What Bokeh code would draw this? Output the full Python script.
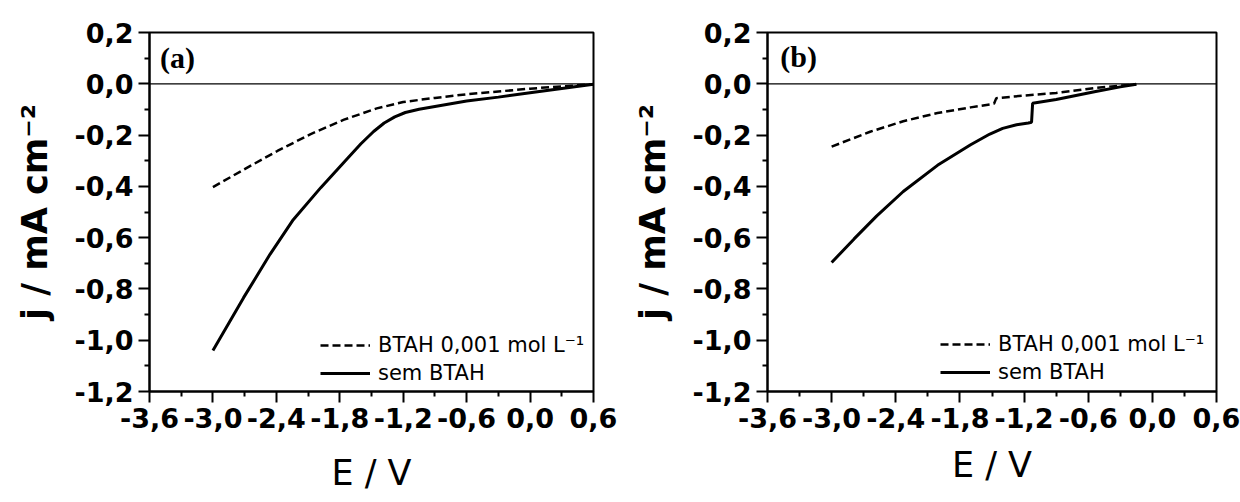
from bokeh.plotting import figure
from bokeh.layouts import row
from bokeh.models import Span, Label, FixedTicker, CustomJSTickFormatter, Range1d
from bokeh.embed import file_html
from bokeh.resources import INLINE

# ---------------- data ----------------
# Panel (a)
a_btah_E = [-3.00, -2.71, -2.39, -2.08, -1.76, -1.45, -1.20, -0.90, -0.60, -0.30, 0.00, 0.30, 0.60]
a_btah_j = [-0.403, -0.335, -0.262, -0.197, -0.140, -0.096, -0.071, -0.055, -0.041, -0.030, -0.019, -0.010, -0.002]
a_sem_E = [-3.00, -2.71, -2.46, -2.24, -1.98, -1.73, -1.60, -1.48, -1.38, -1.28, -1.18, -1.05, -0.60, -0.30, 0.00, 0.30, 0.60]
a_sem_j = [-1.040, -0.834, -0.665, -0.530, -0.405, -0.292, -0.234, -0.186, -0.153, -0.129, -0.112, -0.099, -0.067, -0.052, -0.035, -0.018, -0.002]

# Panel (b)
b_btah_E = [-3.00, -2.64, -2.33, -2.01, -1.70, -1.52, -1.48, -1.46, -1.20, -0.90, -0.53, -0.30, -0.15]
b_btah_j = [-0.245, -0.187, -0.146, -0.114, -0.092, -0.081, -0.077, -0.056, -0.046, -0.036, -0.016, -0.007, -0.002]
b_sem_E = [-3.00, -2.79, -2.58, -2.33, -2.01, -1.70, -1.52, -1.40, -1.27, -1.16, -1.13, -1.12, -0.90, -0.53, -0.30, -0.15]
b_sem_j = [-0.697, -0.605, -0.516, -0.420, -0.318, -0.238, -0.196, -0.174, -0.160, -0.153, -0.150, -0.076, -0.061, -0.030, -0.012, -0.002]

x_ticks = [-3.6, -3.0, -2.4, -1.8, -1.2, -0.6, 0.0, 0.6]
x_tick_labels = ["-3,6", "-3,0", "-2,4", "-1,8", "-1,2", "-0,6", "0,0", "0,6"]
y_ticks = [0.2, 0.0, -0.2, -0.4, -0.6, -0.8, -1.0, -1.2]
y_tick_labels = ["0,2", "0,0", "-0,2", "-0,4", "-0,6", "-0,8", "-1,0", "-1,2"]

series_labels = ["BTAH 0,001 mol L\u207b\u00b9", "sem BTAH"]
panel_tags = ["(a)", "(b)"]
x_title = "E / V"
y_title = "j / mA cm\u207b\u00b2"

FMT = """
let best = 0, d = Infinity;
for (let i = 0; i < tv.length; i++) {
  const e = Math.abs(tv[i] - tick);
  if (e < d) { d = e; best = i; }
}
return tl[best];
"""


def midpoints(t):
    s = sorted(t)
    return [(s[i] + s[i + 1]) / 2 for i in range(len(s) - 1)]


def make_panel(tag, bE, bj, sE, sj, borders, legend_loc, tag_xy, xlab_standoff):
    left, right, top, bottom = borders
    p = figure(width=620, height=502,
               x_range=Range1d(-3.6, 0.6), y_range=Range1d(-1.2, 0.2),
               output_backend="svg", toolbar_location=None,
               min_border_left=left, min_border_right=right,
               min_border_top=top, min_border_bottom=bottom)
    p.grid.visible = False
    p.background_fill_color = "white"
    p.border_fill_color = "white"
    p.outline_line_color = "black"
    p.outline_line_width = 2

    p.xaxis.ticker = FixedTicker(ticks=x_ticks, minor_ticks=midpoints(x_ticks))
    p.yaxis.ticker = FixedTicker(ticks=y_ticks, minor_ticks=midpoints(y_ticks))
    p.xaxis.formatter = CustomJSTickFormatter(args=dict(tv=x_ticks, tl=x_tick_labels), code=FMT)
    p.yaxis.formatter = CustomJSTickFormatter(args=dict(tv=y_ticks, tl=y_tick_labels), code=FMT)

    for ax in (p.xaxis[0], p.yaxis[0]):
        ax.axis_line_width = 2
        ax.axis_line_color = "black"
        ax.major_tick_line_width = 2
        ax.minor_tick_line_width = 2
        ax.major_tick_line_color = "black"
        ax.minor_tick_line_color = "black"
        ax.major_tick_out = 11
        ax.major_tick_in = 0
        ax.minor_tick_out = 5
        ax.minor_tick_in = 0
        ax.major_label_text_font = "DejaVu Sans"
        ax.major_label_text_font_style = "bold"
        ax.major_label_text_font_size = "27px"
        ax.major_label_text_color = "black"
        ax.major_label_standoff = 5
        ax.axis_label_text_color = "black"
        ax.axis_label_text_font = "DejaVu Sans"
        ax.axis_label_text_font_size = "35px"

    p.yaxis.axis_label = y_title
    p.yaxis.axis_label_text_font_style = "bold"
    p.yaxis.axis_label_standoff = 16
    p.xaxis.axis_label = x_title
    p.xaxis.axis_label_text_font_style = "normal"
    p.xaxis.axis_label_standoff = xlab_standoff

    p.add_layout(Span(location=0, dimension="width", line_color="black", line_width=1.2))

    p.line(bE, bj, line_color="black", line_width=2.5, line_dash="8 4",
           legend_label=series_labels[0])
    p.line(sE, sj, line_color="black", line_width=3, legend_label=series_labels[1])

    leg = p.legend[0]
    leg.location = legend_loc
    leg.background_fill_alpha = 0
    leg.border_line_alpha = 0
    leg.padding = 0
    leg.margin = 0
    leg.spacing = 4
    leg.glyph_width = 50
    leg.glyph_height = 24
    leg.label_height = 24
    leg.label_standoff = 8
    leg.label_text_font = "DejaVu Sans"
    leg.label_text_font_size = "21px"
    leg.label_text_color = "black"

    p.add_layout(Label(x=tag_xy[0], y=tag_xy[1], text=tag, text_font="Liberation Serif",
                       text_font_style="bold", text_font_size="30px", text_color="black",
                       text_baseline="top", text_align="left"))
    return p


p1 = make_panel(panel_tags[0], a_btah_E, a_btah_j, a_sem_E, a_sem_j,
                (149, 27, 29, 111), (171, 6), (-3.5, 0.165), 22)
p2 = make_panel(panel_tags[1], b_btah_E, b_btah_j, b_sem_E, b_sem_j,
                (147, 24, 32, 103), (173, 7), (-3.48, 0.17), 14)

layout = row(p1, p2)
open("out.html", "w").write(file_html(layout, INLINE))
